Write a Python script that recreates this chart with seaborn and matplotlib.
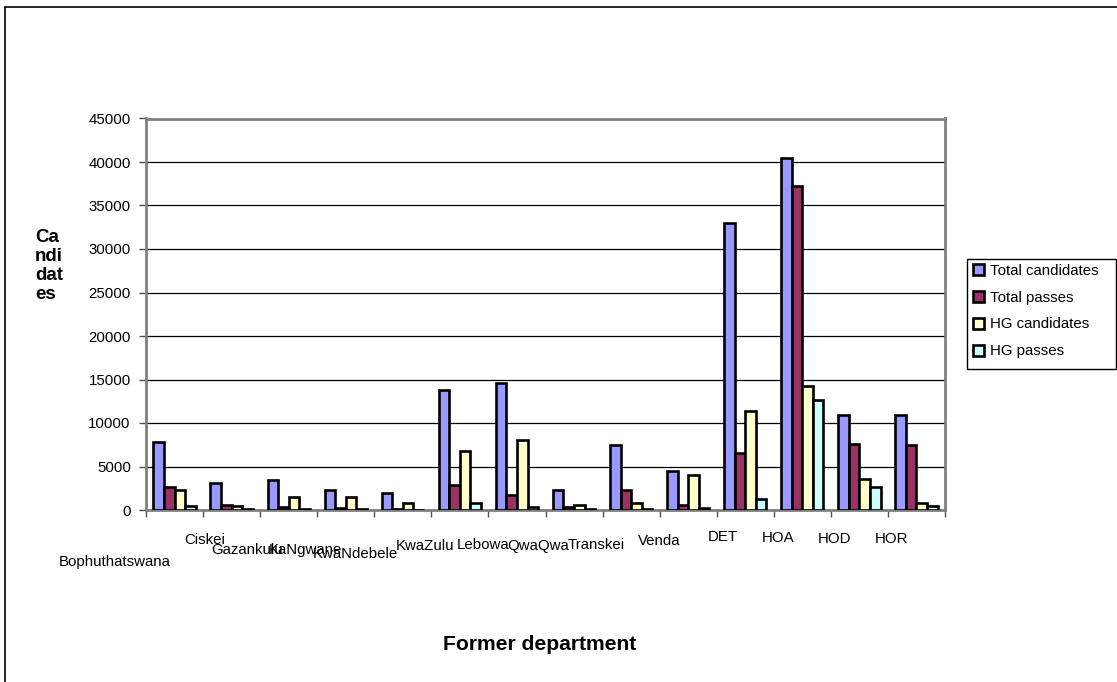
import matplotlib
matplotlib.use("Agg")
import matplotlib.pyplot as plt
import matplotlib.patches as mpatches
from matplotlib.lines import Line2D
from matplotlib.transforms import blended_transform_factory
import numpy as np
import pandas as pd
import seaborn as sns

# Matric results by former education department
departments = ["Bophuthatswana", "Ciskei", "Gazankulu", "KaNgwane", "KwaNdebele",
               "KwaZulu", "Lebowa", "QwaQwa", "Transkei", "Venda",
               "DET", "HOA", "HOD", "HOR"]
total_candidates = [7800, 3100, 3500, 2300, 1900, 13800, 14600, 2300, 7500, 4500,
                    33000, 40500, 10900, 10900]
total_passes = [2600, 600, 400, 250, 150, 2900, 1700, 300, 2300, 600,
                6500, 37200, 7600, 7500]
hg_candidates = [2300, 500, 1550, 1500, 850, 6800, 8000, 600, 800, 4000,
                 11400, 14200, 3600, 800]
hg_passes = [500, 100, 150, 100, 50, 800, 300, 100, 100, 200,
             1300, 12600, 2600, 500]

series_names = ["Total candidates", "Total passes", "HG candidates", "HG passes"]
series_values = [total_candidates, total_passes, hg_candidates, hg_passes]
colors = ["#9999FF", "#993366", "#FFFFCC", "#CCFFFF"]

# Category label placement (horizontal shift in category units, drop in pixels)
label_dx = [-1.04, -0.48, -0.73, -0.71, -0.84, -0.61, -0.60, -0.63, -0.62, -0.51,
            -0.40, -0.43, -0.43, -0.43]
label_drop = [52, 30, 40, 40, 44, 36, 35, 36, 35, 31, 27, 28, 29, 29]

df = pd.DataFrame({
    "department": np.tile(departments, len(series_names)),
    "series": np.repeat(series_names, len(departments)),
    "value": np.concatenate(series_values),
})

sns.set_style("white")
plt.rcParams["font.family"] = ["Liberation Sans", "DejaVu Sans"]
plt.rcParams["text.color"] = "black"
plt.rcParams["xtick.color"] = "black"
plt.rcParams["ytick.color"] = "black"

W, H = 1117, 682
fig = plt.figure(figsize=(W / 100, H / 100), dpi=100)
ax_left, ax_right, ax_top, ax_bottom = 146, 945, 118.5, 510
ax = fig.add_axes([ax_left / W, 1 - ax_bottom / H,
                   (ax_right - ax_left) / W, (ax_bottom - ax_top) / H])

sns.barplot(data=df, x="department", y="value", hue="series",
            order=departments, hue_order=series_names, palette=colors,
            saturation=1, width=0.74, edgecolor="black", linewidth=1.9,
            legend=False, ax=ax, zorder=3)

ax.set_ylim(0, 45000)
ax.set_xlim(-0.5, len(departments) - 0.5)
ax.set_yticks(np.arange(0, 45001, 5000))
ax.set_yticklabels([str(v) for v in range(0, 45001, 5000)], fontsize=10.8,
                   color="black")
ax.yaxis.grid(True, color="black", linewidth=0.9, zorder=0)
ax.set_axisbelow(True)
ax.set_xticks(np.arange(-0.5, len(departments), 1.0))
ax.set_xticklabels([])
ax.tick_params(axis="y", direction="out", length=5, width=1, color="#505050",
               left=True, pad=6)
ax.tick_params(axis="x", direction="out", length=5, width=1, color="#505050",
               bottom=True)
ax.set_xlabel("")
ax.set_ylabel("")
for side in ["left", "right", "top", "bottom"]:
    ax.spines[side].set_visible(True)
    ax.spines[side].set_color("#808080")
    ax.spines[side].set_linewidth(2)

# Staggered category labels
ax_h = ax_bottom - ax_top
trans = blended_transform_factory(ax.transData, ax.transAxes)
for i, name in enumerate(departments):
    ax.text(i + label_dx[i], -label_drop[i] / ax_h, name, transform=trans,
            ha="center", va="center", fontsize=10.8, color="black")

fig.text(540 / W, 1 - 645 / H, "Former department", ha="center", va="center",
         fontsize=15.2, fontweight="bold", color="black")
fig.text(35 / W, 1 - 266 / H, "Ca\nndi\ndat\nes", ha="left", va="center",
         multialignment="left", fontsize=13.5, fontweight="bold", linespacing=1.15,
         color="black")

# Legend with a fixed box
handles = [mpatches.Patch(facecolor=c, edgecolor="black", linewidth=1.9, label=n)
           for c, n in zip(colors, series_names)]
leg = fig.legend(handles=handles, loc="upper left",
                 bbox_to_anchor=(973 / W, 1 - 264 / H), bbox_transform=fig.transFigure,
                 fontsize=10.8, frameon=False, borderaxespad=0, borderpad=0,
                 handlelength=0.75, handleheight=0.75, handletextpad=0.35,
                 labelspacing=0.85, labelcolor="black")
fig.patches.append(mpatches.Rectangle((967 / W, 1 - 369 / H), (1116 - 967) / W,
                                      110 / H, transform=fig.transFigure, fill=False,
                                      edgecolor="black", linewidth=1))

# Outer chart border (left and top edges within the image)
fig.add_artist(Line2D([5 / W, 5 / W], [0, 1 - 7 / H], transform=fig.transFigure,
                      color="black", linewidth=1.2))
fig.add_artist(Line2D([5 / W, 1], [1 - 7 / H, 1 - 7 / H], transform=fig.transFigure,
                      color="black", linewidth=1.2))

fig.savefig("out.png", dpi=100, facecolor="white")
